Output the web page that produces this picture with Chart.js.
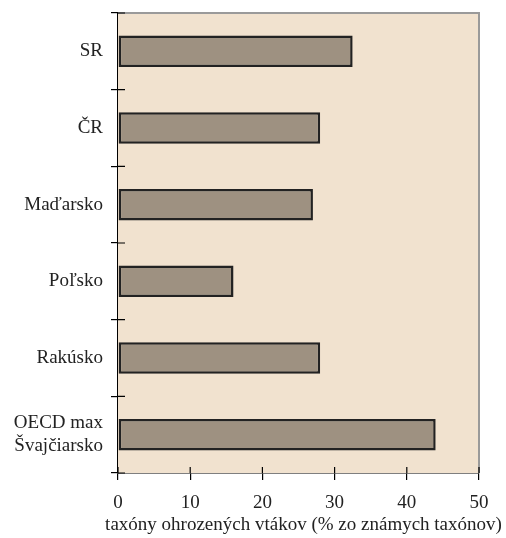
<!DOCTYPE html>
<html>
<head>
<meta charset="utf-8">
<script src="https://cdn.jsdelivr.net/npm/chart.js@4"></script>
<style>
  body { margin: 0; background: #fff; }
</style>
</head>
<body>
<canvas id="myChart" width="506" height="538"></canvas>
<script>
var krajiny = ["SR", "ČR", "Maďarsko", "Poľsko", "Rakúsko", ["OECD max", "Švajčiarsko"]];
var hodnoty = [32.5, 28, 27, 16, 28, 44];
var osX = "taxóny ohrozených vtákov (% zo známych taxónov)";
var pismo = "'Liberation Serif', 'DejaVu Serif', serif";

// pozadie plochy grafu, sive okraje hore a vpravo, vnutorne casti ciarok, popis osi x
var pozadie = {
  id: "pozadie",
  beforeDatasetsDraw: function(chart) {
    var ctx = chart.ctx;
    var a = chart.chartArea;
    ctx.save();
    ctx.fillStyle = "#f1e2cf";
    ctx.fillRect(a.left, a.top, a.right - a.left, a.bottom - a.top);
    ctx.strokeStyle = "#9a9a9a";
    ctx.lineWidth = 2;
    ctx.beginPath();
    ctx.moveTo(a.left, a.top);
    ctx.lineTo(a.right, a.top);
    ctx.lineTo(a.right, a.bottom);
    ctx.stroke();
    ctx.restore();
  },
  afterDatasetsDraw: function(chart) {
    var ctx = chart.ctx;
    var a = chart.chartArea;
    var x = chart.scales.x;
    var y = chart.scales.y;
    ctx.save();
    ctx.strokeStyle = "#000";
    ctx.lineWidth = 1.2;
    ctx.beginPath();
    for (var i = 0; i <= krajiny.length; i++) {
      var py = y.getPixelForValue(i - 0.5);
      ctx.moveTo(a.left, py);
      ctx.lineTo(a.left + 7, py);
    }
    for (var v = 0; v <= 50; v += 10) {
      var px = x.getPixelForValue(v);
      ctx.moveTo(px, a.bottom);
      ctx.lineTo(px, a.bottom - 6);
    }
    ctx.stroke();
    ctx.restore();
  },
  afterDraw: function(chart) {
    // nazov osi x je sirsi ako os, preto ho kreslime sami (Chart.js by ho stlacil)
    var ctx = chart.ctx;
    var x = chart.scales.x;
    ctx.save();
    ctx.font = "19px " + pismo;
    ctx.fillStyle = "#222";
    ctx.textAlign = "center";
    ctx.textBaseline = "alphabetic";
    ctx.fillText(osX, (x.left + x.right) / 2 + 5, 530, 398);
    ctx.restore();
  }
};

var ctx = document.getElementById("myChart").getContext("2d");
var chart = new Chart(ctx, {
  type: "bar",
  data: {
    labels: krajiny,
    datasets: [{
      data: hodnoty,
      backgroundColor: "#9e9181",
      borderColor: "#222",
      borderWidth: 2.5,
      borderSkipped: false,
      categoryPercentage: 1,
      barPercentage: 0.41
    }]
  },
  options: {
    indexAxis: "y",
    responsive: false,
    animation: false,
    layout: { padding: { top: 13, right: 27, left: 0, bottom: 0 } },
    plugins: {
      legend: { display: false },
      tooltip: { enabled: false }
    },
    scales: {
      x: {
        min: 0,
        max: 50,
        ticks: {
          stepSize: 10,
          color: "#222",
          padding: 12,
          font: { family: pismo, size: 19 }
        },
        grid: { drawOnChartArea: false, tickLength: 7, color: "#000", lineWidth: 1.2 },
        border: { color: "#000", width: 1.5 },
        afterFit: function(s) {
          s.height = 65;
          s.paddingLeft = 0;
          s.paddingRight = 0;
        }
      },
      y: {
        ticks: {
          color: "#222",
          padding: 8,
          font: { family: pismo, size: 19 }
        },
        grid: { drawOnChartArea: false, tickLength: 7, color: "#000", lineWidth: 1.2, offset: true },
        border: { color: "#000", width: 1.5 },
        afterFit: function(s) {
          s.width = 118;
          s.paddingTop = 0;
          s.paddingBottom = 0;
        }
      }
    }
  },
  plugins: [pozadie]
});
</script>
</body>
</html>
